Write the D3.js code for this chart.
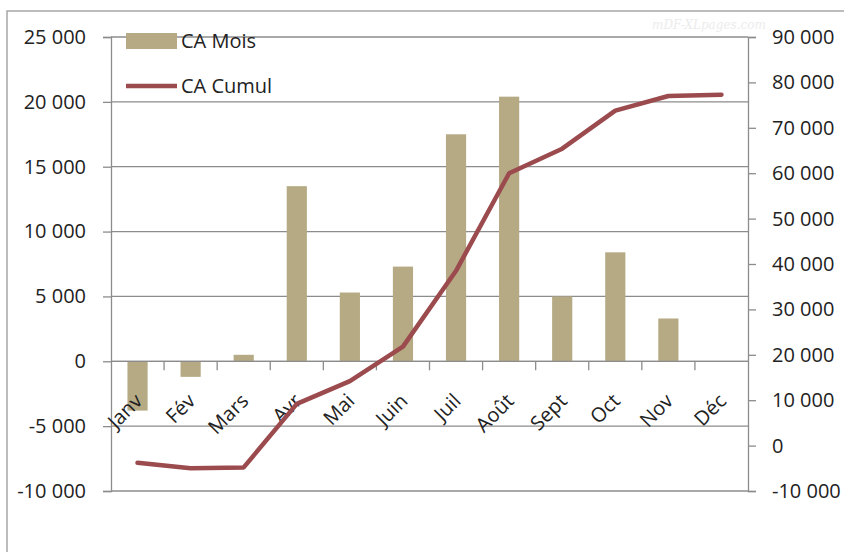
<!DOCTYPE html>
<html><head><meta charset="utf-8">
<script src="https://cdn.jsdelivr.net/npm/d3@7/dist/d3.min.js"></script>
<style>
html,body{margin:0;padding:0;background:#fff;}
svg{display:block;font-family:"Open Sans",sans-serif;}
</style></head>
<body><svg id="c" width="844" height="552"></svg>
<script>
const months = ["Janv","Fév","Mars","Avr","Mai","Juin","Juil","Août","Sept","Oct","Nov","Déc"];
const caMois = [-3800, -1200, 500, 13500, 5300, 7300, 17500, 20400, 5000, 8400, 3300, 0];
const caCumul = [-3800, -5000, -4800, 9200, 14200, 21800, 38500, 60000, 65400, 73800, 77000, 77300];
const leftTicks = [-10000, -5000, 0, 5000, 10000, 15000, 20000, 25000];
const rightTicks = [-10000, 0, 10000, 20000, 30000, 40000, 50000, 60000, 70000, 80000, 90000];
const seriesNames = ["CA Mois", "CA Cumul"];

const W = 844, H = 552;
const L = 111, R = 748, T = 37, B = 491;
const barColor = "#b5aa84", lineColor = "#9b4a4d", gridColor = "#8c8c8c", textColor = "#222";

const loc = d3.formatLocale({decimal: ",", thousands: " ", grouping: [3], currency: ["", " €"], minus: "-"});
const fmt = loc.format(",d");

const svg = d3.select("#c");

// chart area border
svg.append("path").attr("d", `M7,${H}V11H${W}`).attr("fill", "none").attr("stroke", "#a6a6a6").attr("stroke-width", 1.5);

// watermark
svg.append("text").attr("x", 652).attr("y", 29).attr("font-family", "DejaVu Serif, serif").attr("font-style", "italic")
  .attr("font-size", 12).attr("fill", "#ececec").text("mDF-XLpages.com");

const x = d3.scaleBand().domain(months).range([L, R]).padding(0);
const yL = d3.scaleLinear().domain([-10000, 25000]).range([B, T]);
const yR = d3.scaleLinear().domain([-10000, 90000]).range([B, T]);

// gridlines
svg.append("g").selectAll("line").data(leftTicks).join("line")
  .attr("x1", L).attr("x2", R).attr("y1", d => yL(d)).attr("y2", d => yL(d))
  .attr("stroke", gridColor).attr("stroke-width", 1.3);

// left axis
const axL = svg.append("g").attr("transform", `translate(${L},0)`)
  .call(d3.axisLeft(yL).tickValues(leftTicks).tickFormat(fmt).tickSize(8).tickPadding(17));
axL.select(".domain").attr("stroke", gridColor).attr("stroke-width", 1.3);
axL.selectAll(".tick line").attr("stroke", gridColor).attr("stroke-width", 1.3);
axL.selectAll("text").attr("font-size", 20).attr("fill", textColor).attr("font-family", "Open Sans");

// right axis
const axR = svg.append("g").attr("transform", `translate(${R},0)`)
  .call(d3.axisRight(yR).tickValues(rightTicks).tickFormat(fmt).tickSize(8).tickPadding(16));
axR.select(".domain").attr("stroke", gridColor).attr("stroke-width", 1.3);
axR.selectAll(".tick line").attr("stroke", gridColor).attr("stroke-width", 1.3);
axR.selectAll("text").attr("font-size", 20).attr("fill", textColor).attr("font-family", "Open Sans");

// bars
const bw = x.bandwidth() * 0.38;
svg.append("g").selectAll("rect").data(months).join("rect")
  .attr("x", d => x(d) + (x.bandwidth() - bw) / 2)
  .attr("width", bw)
  .attr("y", (d, i) => Math.min(yL(caMois[i]), yL(0)))
  .attr("height", (d, i) => Math.abs(yL(caMois[i]) - yL(0)))
  .attr("fill", barColor);

// category axis at zero
const y0 = yL(0);
svg.append("line").attr("x1", L).attr("x2", R).attr("y1", y0).attr("y2", y0).attr("stroke", gridColor).attr("stroke-width", 1.3);
svg.append("g").selectAll("line").data(months.slice(1)).join("line")
  .attr("x1", d => x(d)).attr("x2", d => x(d)).attr("y1", y0).attr("y2", y0 + 9)
  .attr("stroke", gridColor).attr("stroke-width", 1.3);
svg.append("g").selectAll("text").data(months).join("text")
  .attr("transform", d => `translate(${x(d) + x.bandwidth() / 2 + 6},${y0 + 41}) rotate(-45)`)
  .attr("text-anchor", "end").attr("font-size", 20).attr("fill", textColor).text(d => d);

// cumulative line
const line = d3.line().x((d, i) => x(months[i]) + x.bandwidth() / 2).y(d => yR(d));
svg.append("path").datum(caCumul).attr("d", line).attr("fill", "none")
  .attr("stroke", lineColor).attr("stroke-width", 4.5).attr("stroke-linejoin", "round").attr("stroke-linecap", "round");

// legend
const lg = svg.append("g");
lg.append("rect").attr("x", 126).attr("y", 33).attr("width", 51).attr("height", 16).attr("fill", barColor);
lg.append("line").attr("x1", 126).attr("x2", 177).attr("y1", 86).attr("y2", 86).attr("stroke", lineColor).attr("stroke-width", 4.5);
lg.selectAll("text").data(seriesNames).join("text")
  .attr("x", 181).attr("y", (d, i) => i === 0 ? 48 : 93)
  .attr("font-size", 20).attr("fill", textColor).text(d => d);
</script></body></html>
